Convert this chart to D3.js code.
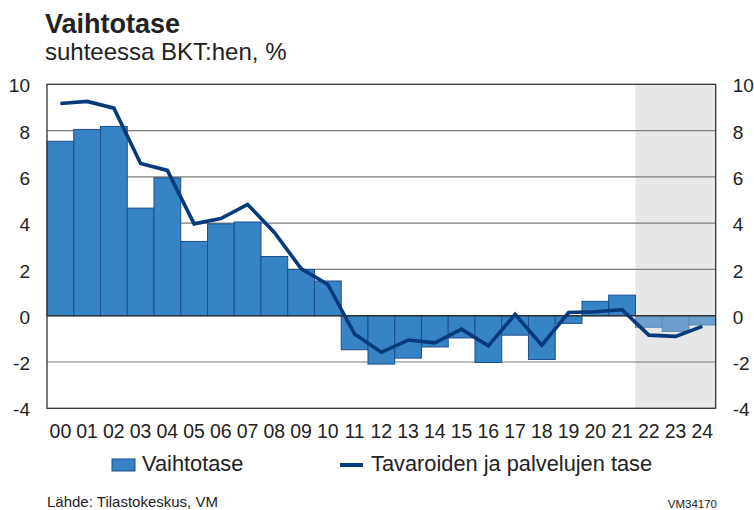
<!DOCTYPE html>
<html>
<head>
<meta charset="utf-8">
<script src="https://cdn.jsdelivr.net/npm/d3@7"></script>
<style>
  body { margin: 0; background: #fff; }
  svg { display: block; font-family: "Liberation Sans", Arial, sans-serif; }
</style>
</head>
<body>
<svg id="chart" width="754" height="510"></svg>
<script>
// data
var years = ['00','01','02','03','04','05','06','07','08','09','10','11','12',
             '13','14','15','16','17','18','19','20','21','22','23','24']
var vaihtotase = [7.54, 8.05, 8.18, 4.65, 5.96, 3.21, 3.97, 4.05, 2.56, 2.0, 1.5,
                  -1.47, -2.09, -1.83, -1.35, -0.96, -2.02, -0.84, -1.89, -0.33,
                  0.62, 0.89, -0.5, -0.68, -0.4]
var tase = [9.17, 9.26, 8.97, 6.58, 6.28, 3.97, 4.2, 4.81, 3.6, 2.04, 1.35,
            -0.79, -1.58, -1.05, -1.17, -0.58, -1.3, 0.06, -1.27, 0.14,
            0.17, 0.26, -0.84, -0.89, -0.46]
var forecast = ['22', '23', '24']
var yTicks = [-4, -2, 0, 2, 4, 6, 8, 10]

var svg = d3.select('#chart')

// plot box
var plotLeft = 47
var plotRight = 715.7
var plotTop = 84.3
var plotBottom = 408.3

var x = d3.scaleBand()
          .domain(years)
          .range([plotLeft, plotRight])
          .padding(0)

var y = d3.scaleLinear()
          .domain([-4, 10])
          .range([plotBottom, plotTop])

function isForecast(d) {
  return forecast.indexOf(d) >= 0
}

// plain hyphen minus like the original
function fmt(d) {
  return String(d)
}

// forecast shade
svg.append('rect')
   .attr('x', x(forecast[0]))
   .attr('y', plotTop)
   .attr('width', plotRight - x(forecast[0]))
   .attr('height', plotBottom - plotTop)
   .attr('fill', '#e6e7e9')

// gridlines
svg.append('g')
   .selectAll('line')
   .data(yTicks.filter(function(d) { return d != 0 && d != -4 && d != 10 }))
   .enter()
   .append('line')
   .attr('x1', plotLeft)
   .attr('x2', plotRight)
   .attr('y1', function(d) { return y(d) })
   .attr('y2', function(d) { return y(d) })
   .attr('stroke', '#7d7d7d')
   .attr('stroke-width', 1.2)

// bars
svg.append('g')
   .selectAll('rect')
   .data(years)
   .enter()
   .append('rect')
   .attr('x', function(d) { return x(d) })
   .attr('width', x.bandwidth())
   .attr('y', function(d, i) { return y(Math.max(0, vaihtotase[i])) })
   .attr('height', function(d, i) { return Math.abs(y(vaihtotase[i]) - y(0)) })
   .attr('fill', function(d) { return isForecast(d) ? '#6c9fcb' : '#3684c6' })
   .attr('stroke', function(d) { return isForecast(d) ? '#5b8bb8' : '#1d4f8c' })
   .attr('stroke-width', 1)

// zero line
svg.append('line')
   .attr('x1', plotLeft)
   .attr('x2', plotRight)
   .attr('y1', y(0))
   .attr('y2', y(0))
   .attr('stroke', '#333')
   .attr('stroke-width', 1.3)

// frame
svg.append('rect')
   .attr('x', plotLeft)
   .attr('y', plotTop)
   .attr('width', plotRight - plotLeft)
   .attr('height', plotBottom - plotTop)
   .attr('fill', 'none')
   .attr('stroke', '#333')
   .attr('stroke-width', 1.3)

// line
var line = d3.line()
             .x(function(d, i) { return x(years[i]) + x.bandwidth() / 2 })
             .y(function(d) { return y(d) })

svg.append('path')
   .datum(tase)
   .attr('d', line)
   .attr('fill', 'none')
   .attr('stroke', '#063a7b')
   .attr('stroke-width', 3.6)

// y axes, both sides
var gl = svg.append('g')
            .attr('transform', 'translate(' + plotLeft + ',0)')
            .call(d3.axisLeft(y).tickValues(yTicks).tickFormat(fmt).tickSize(0).tickPadding(17))
var gr = svg.append('g')
            .attr('transform', 'translate(' + plotRight + ',0)')
            .call(d3.axisRight(y).tickValues(yTicks).tickFormat(fmt).tickSize(0).tickPadding(17))
;[gl, gr].forEach(function(g) {
  g.select('.domain').remove()
  g.selectAll('text')
   .attr('font-size', 19)
   .attr('font-family', '"Liberation Sans", Arial, sans-serif')
   .attr('dy', '0.4em')
   .attr('fill', '#222')
})

// x axis
var gx = svg.append('g')
            .attr('transform', 'translate(0,' + plotBottom + ')')
            .call(d3.axisBottom(x).tickSize(0).tickPadding(16))
gx.select('.domain').remove()
gx.selectAll('text')
  .attr('font-size', 19.5)
  .attr('font-family', '"Liberation Sans", Arial, sans-serif')
  .attr('fill', '#222')

// title
svg.append('text')
   .attr('x', 45)
   .attr('y', 33)
   .attr('font-size', 27)
   .attr('font-weight', 'bold')
   .attr('fill', '#222')
   .text('Vaihtotase')

svg.append('text')
   .attr('x', 45)
   .attr('y', 60)
   .attr('font-size', 24)
   .attr('fill', '#222')
   .text('suhteessa BKT:hen, %')

// legend
svg.append('rect')
   .attr('x', 112)
   .attr('y', 459)
   .attr('width', 23)
   .attr('height', 12)
   .attr('fill', '#3684c6')
   .attr('stroke', '#1d4f8c')
   .attr('stroke-width', 1)

svg.append('text')
   .attr('x', 142)
   .attr('y', 471)
   .attr('font-size', 21.8)
   .attr('fill', '#222')
   .text('Vaihtotase')

svg.append('line')
   .attr('x1', 340)
   .attr('x2', 363)
   .attr('y1', 465)
   .attr('y2', 465)
   .attr('stroke', '#063a7b')
   .attr('stroke-width', 4)

svg.append('text')
   .attr('x', 371)
   .attr('y', 471)
   .attr('font-size', 21.8)
   .attr('fill', '#222')
   .text('Tavaroiden ja palvelujen tase')

// footer
svg.append('text')
   .attr('x', 47)
   .attr('y', 507)
   .attr('font-size', 15)
   .attr('fill', '#222')
   .text('Lähde: Tilastokeskus, VM')

svg.append('text')
   .attr('x', 717)
   .attr('y', 508)
   .attr('text-anchor', 'end')
   .attr('font-size', 11.5)
   .attr('fill', '#222')
   .text('VM34170')
</script>
</body>
</html>
